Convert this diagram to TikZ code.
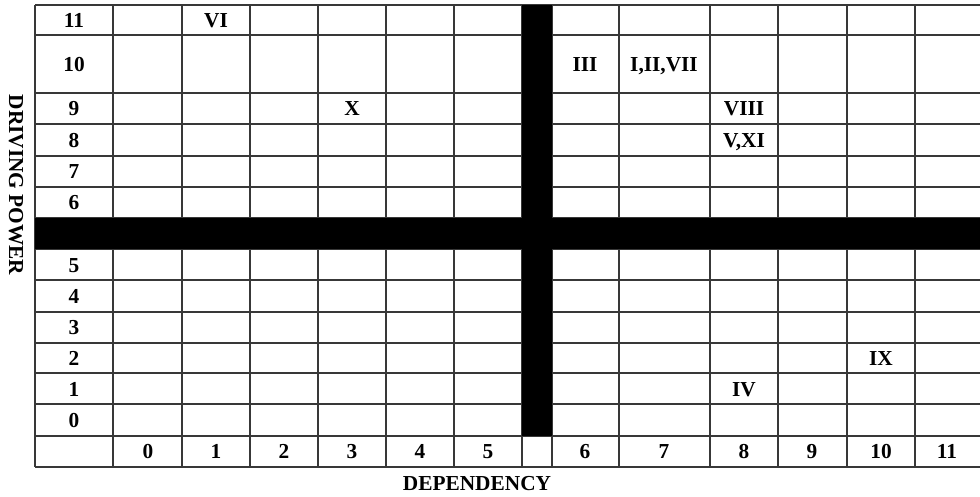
\documentclass[tikz,border=0pt]{standalone}
\usepackage{fontspec}
\setmainfont{Liberation Serif}

\begin{document}
\begin{tikzpicture}[x=0.75pt, y=-0.75pt,
    gridline/.style={line width=1.4pt, draw=black!78},
    bar/.style={fill=black},
    lbl/.style={font=\bfseries\fontsize{16}{19}\selectfont, inner sep=0pt, text height=10.5pt, text depth=0pt}]
  \useasboundingbox (0,0) rectangle (980,496);

  % Grid lines
  \foreach \y in {5,35,93,124,156,187,218,249,280,312,343,373,404,436,467} {
    \draw[gridline] (35,\y) -- (980,\y);
  }
  \foreach \x in {35,113,182,250,318,386,454,522,552,619,710,778,847,915} {
    \draw[gridline] (\x,5) -- (\x,467);
  }

  % Black bars
  \fill[bar] (35,218) rectangle (980,249);
  \fill[bar] (522,5) rectangle (552,436);

  % Driving power levels
  \foreach \n/\y in {11/20,10/64,9/108,8/140,7/171,6/202,5/265,4/296,3/327,2/358,1/389,0/420} {
    \node[lbl] (r\n) at (74,\y) {\n};
  }

  % Dependency levels
  \foreach \n/\x in {0/148,1/216,2/284,3/352,4/420,5/488,6/585,7/664,8/744,9/812,10/881,11/947} {
    \node[lbl] (c\n) at (\x,451) {\n};
  }

  % Variables
  \node[lbl] (vi) at (216, 20) {VI};
  \node[lbl] (iii) at (585, 64) {III};
  \node[lbl] (iiivii) at (664, 64) {I,II,VII};
  \node[lbl] (x) at (352, 108) {X};
  \node[lbl] (viii) at (744, 108) {VIII};
  \node[lbl] (vxi) at (744, 140) {V,XI};
  \node[lbl] (ix) at (881, 358) {IX};
  \node[lbl] (iv) at (744, 389) {IV};

  % Axis titles
  \node[lbl, rotate=-90] (dp) at (16, 185) {DRIVING POWER};
  \node[lbl] (dep) at (477, 483) {DEPENDENCY};
\end{tikzpicture}
\end{document}
